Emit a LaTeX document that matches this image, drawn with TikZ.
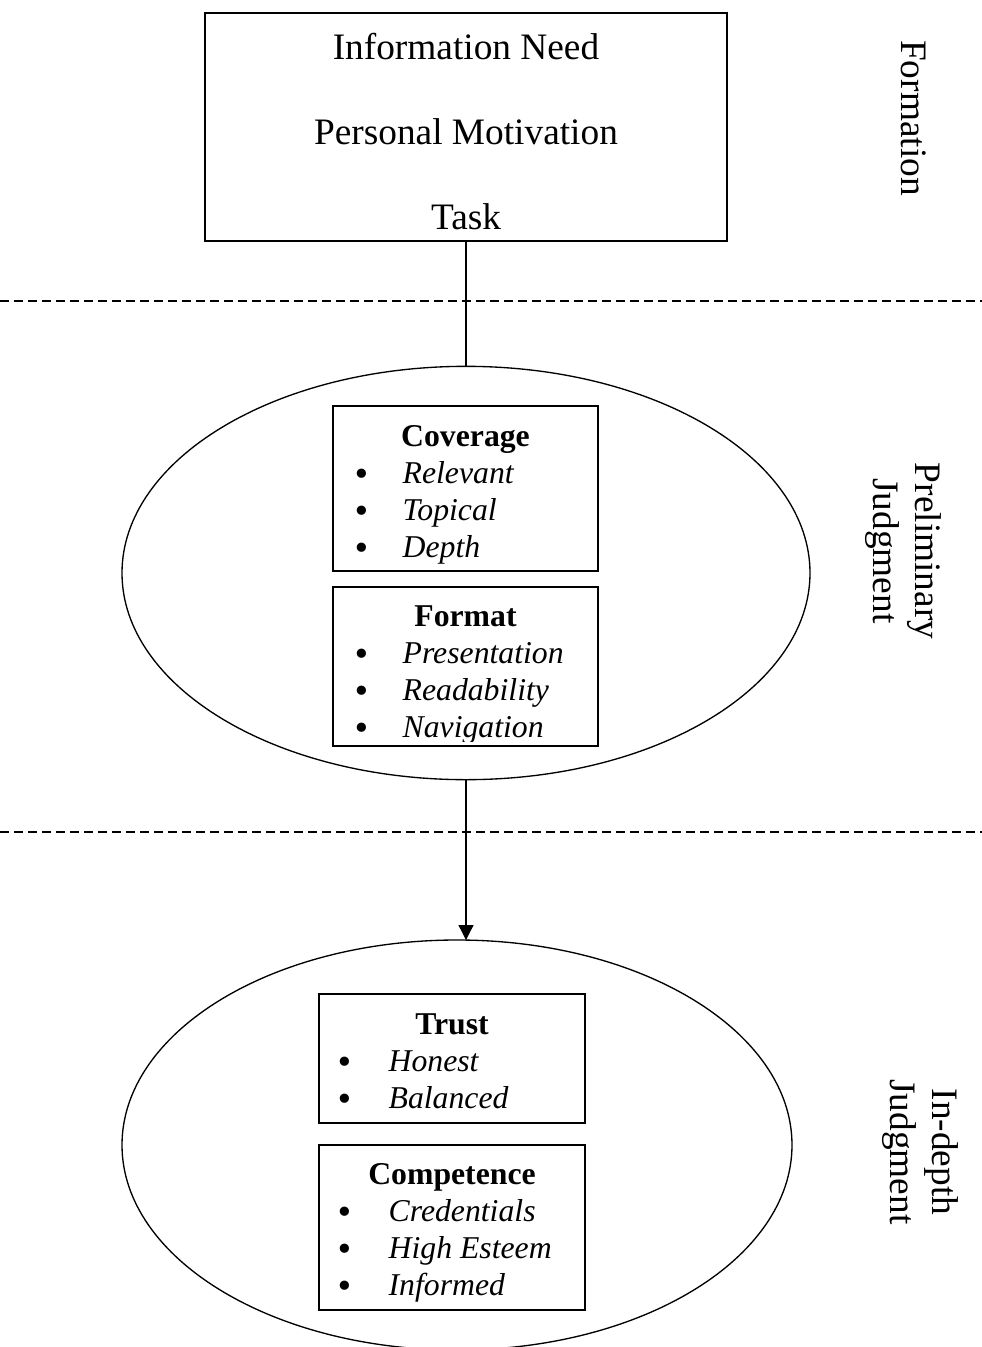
\documentclass[tikz,border=0pt]{standalone}
\usepackage{fontspec}
\setmainfont{Liberation Serif}
\newfontfamily\symfont{DejaVu Sans}
\usetikzlibrary{arrows.meta,positioning,shapes.geometric}
\newcommand{\lblsize}{\fontsize{23.8}{27}\selectfont}

\begin{document}
\begin{tikzpicture}[x=0.75pt,y=-0.75pt,line width=1pt,
  big/.style={font=\fontsize{28}{32}\selectfont,inner sep=0pt,anchor=base},
  side/.style={font=\fontsize{28}{31.5}\selectfont,inner sep=0pt,rotate=-90,align=center},
  ttl/.style={font=\lblsize\bfseries,inner sep=0pt,anchor=base},
  bul/.style={font=\lblsize\symfont,inner sep=0pt,anchor=base,yshift=-1.5pt},
  itm/.style={font=\lblsize\itshape,inner sep=0pt,anchor=base west},
  frame/.style={draw,inner sep=0pt,outer sep=0pt},
  oval/.style={draw,ellipse,inner sep=0pt,outer sep=0pt},
  sep/.style={dash pattern=on 6.75pt off 3.75pt,line width=0.9pt},
  arrow/.style={-{Triangle[length=11.25pt,width=11.25pt]}}]
\useasboundingbox (0,0) rectangle (982,1347);
% formation
\node[frame,minimum width=391.5pt,minimum height=171pt] (need) at (466,127) {};
\node[big] (info) at (466,59) {Information Need};
\node[big] (motiv) at (466,144) {Personal Motivation};
\node[big] (task) at (466,229) {Task};
\node[side] (formation) at (914,118) {Formation};
\draw[sep] (0,301) -- (982,301);
% preliminary judgment
\node[oval,minimum width=516pt,minimum height=310pt] (prelim) at (466,573) {};
\node[frame,minimum width=198.75pt,minimum height=123.75pt] (cover) at (465.5,488.5) {};
\node[ttl] (covt) at (465.5,446) {Coverage};
\foreach \t [count=\i] in {Relevant,Topical,Depth}{
  \node[bul] (covb\i) at (362,{446+37*\i}) {•};
  \node[itm] (cov\i) at (402,{446+37*\i}) {\t};}
\node[frame,minimum width=198.75pt,minimum height=119.25pt] (format) at (465.5,666.5) {};
\node[ttl] (fmtt) at (465.5,626) {Format};
\begin{scope}
\clip (333,587) rectangle (598,741);
\foreach \t [count=\i] in {Presentation,Readability,Navigation}{
  \node[bul] (fmtb\i) at (362,{626+37*\i}) {•};
  \node[itm] (fmt\i) at (402,{626+37*\i}) {\t};}
\end{scope}
\node[side] (prelimlbl) at (903,551) {Preliminary\\Judgment};
\draw (need) -- (prelim);
\draw[sep] (0,832) -- (982,832);
% in-depth judgment
\node[oval,minimum width=502.5pt,minimum height=307.5pt] (depth) at (457,1145) {};
\node[frame,minimum width=199.5pt,minimum height=96.75pt] (trust) at (452,1058.5) {};
\node[ttl] (trt) at (452,1034) {Trust};
\foreach \t [count=\i] in {Honest,Balanced}{
  \node[bul] (trb\i) at (345,{1034+37*\i}) {•};
  \node[itm] (tr\i) at (388,{1034+37*\i}) {\t};}
\node[frame,minimum width=199.5pt,minimum height=123.75pt] (compet) at (452,1227.5) {};
\node[ttl] (cmt) at (452,1184) {Competence};
\foreach \t [count=\i] in {Credentials,High Esteem,Informed}{
  \node[bul] (cmb\i) at (345,{1184+37*\i}) {•};
  \node[itm] (cm\i) at (388,{1184+37*\i}) {\t};}
\node[side] (depthlbl) at (920,1152) {In-depth\\Judgment};
\draw[arrow] (prelim.south) -- (depth.north -| prelim.south);
\end{tikzpicture}
\end{document}
